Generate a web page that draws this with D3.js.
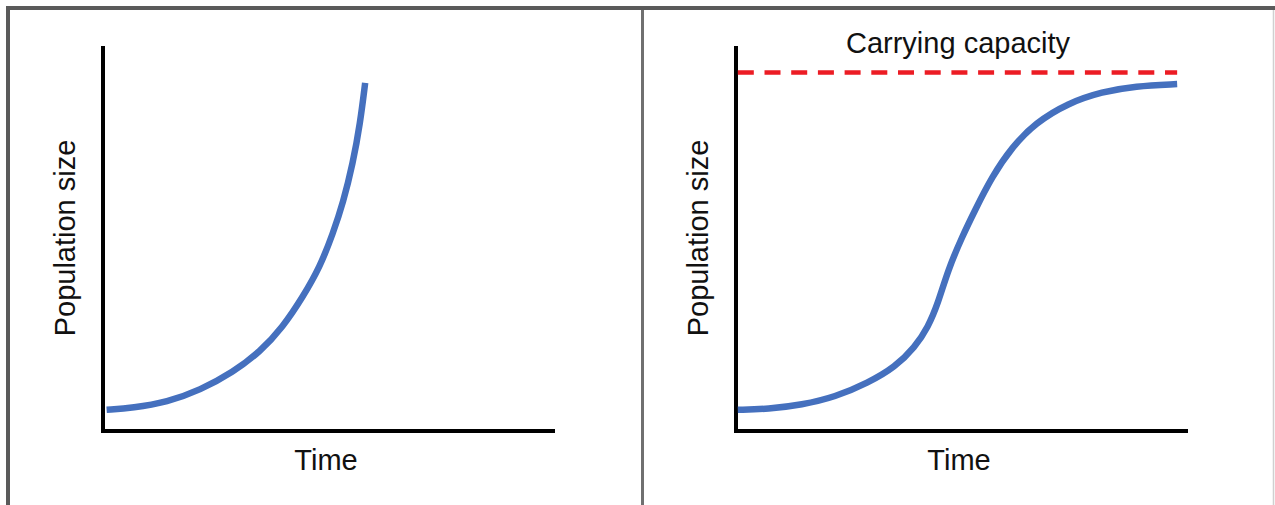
<!DOCTYPE html>
<html>
<head>
<meta charset="utf-8">
<script src="https://cdn.jsdelivr.net/npm/d3@7"></script>
<style>
  html, body { margin: 0; padding: 0; background: #fff; }
  svg { display: block; font-family: "Liberation Sans", Arial, sans-serif; }
</style>
</head>
<body>
<div id="chart"></div>
<script>
// values: time 0..10, population 0..100
var expTime = [0.08, 0.66, 1.42, 2.15, 2.88, 3.47, 3.98, 4.42, 4.80, 5.09, 5.31, 5.53, 5.69, 5.80];
var expPop  = [5.5, 6.0, 7.5, 10.6, 15.3, 20.5, 27.0, 34.8, 42.6, 51.4, 59.2, 69.6, 80.0, 90.4];

var logTime = [0.04, 0.71, 1.46, 2.19, 2.92, 3.52, 3.96, 4.25, 4.47, 4.69, 5.00, 5.29, 5.66, 6.11, 6.62, 7.35, 8.10, 8.83, 9.76];
var logPop  = [5.5, 5.7, 6.8, 8.8, 12.5, 16.6, 21.8, 27.0, 33.2, 41.8, 50.4, 57.4, 66.0, 73.8, 80.0, 85.2, 88.1, 89.6, 90.1];

var capacity = 93.1;
var capRange = [0.04, 9.76];

var axisLabels = { x: "Time", y: "Population size" };
var capLabel = "Carrying capacity";

var W = 1275, H = 505;

var svg = d3.select("#chart").append("svg")
  .attr("width", W)
  .attr("height", H);

// frame
svg.append("rect").attr("x", 0).attr("y", 0).attr("width", W).attr("height", H).attr("fill", "#fff");
svg.append("line").attr("x1", 6).attr("x2", W).attr("y1", 8).attr("y2", 8)
  .attr("stroke", "#5a5a5a").attr("stroke-width", 4);
svg.append("line").attr("x1", 8).attr("x2", 8).attr("y1", 6).attr("y2", H)
  .attr("stroke", "#5a5a5a").attr("stroke-width", 4);
svg.append("line").attr("x1", 642.5).attr("x2", 642.5).attr("y1", 10).attr("y2", H)
  .attr("stroke", "#707070").attr("stroke-width", 3);
svg.append("line").attr("x1", 1273.5).attr("x2", 1273.5).attr("y1", 10).attr("y2", H)
  .attr("stroke", "#d0d0d0").attr("stroke-width", 1.5);

var y = d3.scaleLinear().domain([0, 100]).range([431, 46]);

function panel(x0, times, pops, withCap) {
  var x = d3.scaleLinear().domain([0, 10]).range([x0, x0 + 452]);
  var g = svg.append("g");

  // axes as plain lines (no ticks in the figure)
  g.append("line").attr("x1", x(0)).attr("x2", x(0)).attr("y1", y(100)).attr("y2", y(0) + 2)
    .attr("stroke", "#000").attr("stroke-width", 4);
  g.append("line").attr("x1", x(0) - 2).attr("x2", x(10)).attr("y1", y(0)).attr("y2", y(0))
    .attr("stroke", "#000").attr("stroke-width", 4);

  g.append("text")
    .attr("x", (x(0) + x(10)) / 2 - 3)
    .attr("y", 470)
    .attr("text-anchor", "middle")
    .attr("font-size", 29)
    .attr("fill", "#111")
    .text(axisLabels.x);

  g.append("text")
    .attr("transform", "translate(" + (x(0) - 28) + "," + 238 + ") rotate(-90)")
    .attr("text-anchor", "middle")
    .attr("font-size", 29)
    .attr("fill", "#111")
    .text(axisLabels.y);

  if (withCap) {
    g.append("line")
      .attr("x1", x(capRange[0])).attr("x2", x(capRange[1]))
      .attr("y1", y(capacity)).attr("y2", y(capacity))
      .attr("stroke", "#ec1c24").attr("stroke-width", 4.5)
      .attr("stroke-dasharray", "16,10.7");
    g.append("text")
      .attr("x", (x(0) + x(10)) / 2 - 4)
      .attr("y", 53)
      .attr("text-anchor", "middle")
      .attr("font-size", 29)
      .attr("fill", "#111")
      .text(capLabel);
  }

  var pts = times.map(function(t, i) { return [t, pops[i]]; });
  var line = d3.line()
    .x(function(d) { return x(d[0]); })
    .y(function(d) { return y(d[1]); })
    .curve(d3.curveBasis);

  g.append("path")
    .datum(pts)
    .attr("d", line)
    .attr("fill", "none")
    .attr("stroke", "#4570be")
    .attr("stroke-width", 6.5);
}

panel(103, expTime, expPop, false);
panel(736, logTime, logPop, true);
</script>
</body>
</html>
